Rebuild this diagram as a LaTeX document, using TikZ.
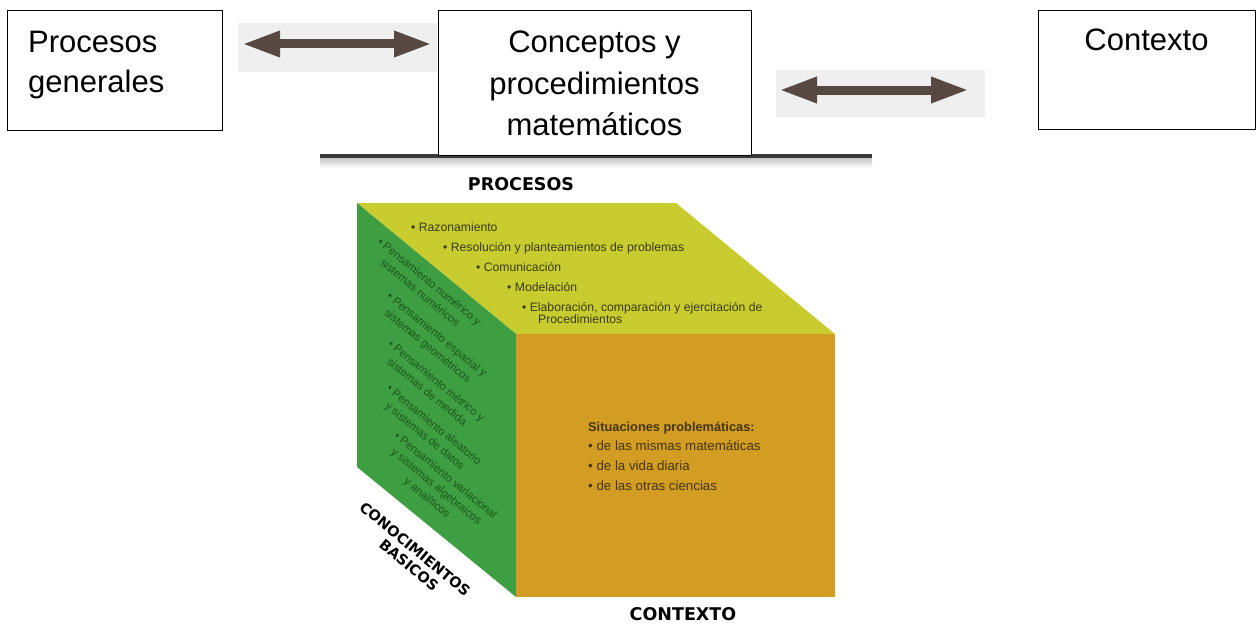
\documentclass[tikz,border=0pt]{standalone}
\usepackage{fontspec}
\setmainfont{Liberation Sans}
\newfontfamily\heavyfont{DejaVu Sans}
\usetikzlibrary{arrows.meta}
\definecolor{arrowc}{HTML}{574842}
\definecolor{arrowbg}{HTML}{EFEFEF}
\definecolor{topface}{HTML}{C9CC2E}
\definecolor{leftface}{HTML}{3E9E42}
\definecolor{frontface}{HTML}{D29D22}
\definecolor{toptext}{HTML}{3A3A14}
\definecolor{lefttext}{HTML}{1C561C}
\definecolor{fronttext}{HTML}{45360E}
\definecolor{rulec}{HTML}{3A3A3A}
\begin{document}
\begin{tikzpicture}[x=1pt,y=-1pt,
  box/.style={draw=black, line width=1.3pt, fill=white, inner sep=0pt, anchor=north west},
  bigtxt/.style={inner sep=0pt, font=\fontsize{31}{40}\selectfont},
  arrbg/.style={fill=arrowbg, draw=none, inner sep=0pt, anchor=north west},
  dblarrow/.style={draw=arrowc, line width=9pt, {Triangle[length=38pt,width=24pt]}-{Triangle[length=38pt,width=24pt]}},
  toptxt/.style={anchor=base west, inner sep=0pt, text=toptext, font=\fontsize{12.2}{13}\selectfont},
  fronttxt/.style={anchor=base west, inner sep=0pt, text=fronttext, font=\fontsize{13.3}{15}\selectfont},
  lefttxt/.style={inner sep=0pt, rotate=-39.5, align=center, text=lefttext, font=\fontsize{11.2}{14.5}\selectfont},
  label/.style={inner sep=0pt, text=black, font=\heavyfont\bfseries\fontsize{17.5}{20}\selectfont},
  dlabel/.style={inner sep=0pt, rotate=-39.5, text=black, font=\heavyfont\bfseries\fontsize{14.5}{17}\selectfont}
]
\useasboundingbox (0,0) rectangle (1257,626);

% separator line under the header
\shade[top color=black!25, bottom color=white] (320,157) rectangle (872,168);
\draw[rulec, line width=4pt] (320,156) -- (872,156);

% header boxes
\node[box, minimum width=215pt, minimum height=120pt] (pg) at (7,10) {};
\node[bigtxt, anchor=north west, align=left] (pgt) at (28,31) {Procesos\\generales};

\node[box, minimum width=313pt, minimum height=145pt] (cp) at (438,10) {};
\node[bigtxt, anchor=north, align=center, font=\fontsize{31}{41.5}\selectfont] (cpt) at (594.5,31) {Conceptos y\\procedimientos\\matemáticos};

\node[box, minimum width=217pt, minimum height=119pt] (ct) at (1038,10) {};
\node[bigtxt, anchor=north] (ctt) at (1146.5,29) {Contexto};

% arrows
\node[arrbg, minimum width=199pt, minimum height=49pt] (bg1) at (238,23) {};
\coordinate (a1l) at (242,44);
\coordinate (a1r) at (432,44);
\draw[dblarrow] (a1l) -- (a1r);

\node[arrbg, minimum width=209pt, minimum height=47pt] (bg2) at (776,70) {};
\coordinate (a2l) at (779,90);
\coordinate (a2r) at (969,90);
\draw[dblarrow] (a2l) -- (a2r);

% cube faces
\fill[topface] (357,203) -- (676,203) -- (835,334) -- (516,334) -- cycle;
\fill[leftface] (357,203) -- (516,334) -- (516,597) -- (357,467) -- cycle;
\fill[frontface] (516,334) rectangle (835,597);

% labels
\node[label] (lproc) at (521,184) {PROCESOS};
\node[label] (lcont) at (683,614.5) {CONTEXTO};
\node[dlabel] (lcon) at (415,549) {CONOCIMIENTOS};
\node[dlabel] (lbas) at (409,565) {BASICOS};

% top face
\node[toptxt] (t1) at (411,231) {• Razonamiento};
\node[toptxt] (t2) at (443,251) {• Resolución y planteamientos de problemas};
\node[toptxt] (t3) at (476,271) {• Comunicación};
\node[toptxt] (t4) at (507,291) {• Modelación};
\node[toptxt] (t5) at (522,311) {• Elaboración, comparación y ejercitación de};
\node[toptxt] (t6) at (538,323) {Procedimientos};

% front face
\node[fronttxt, font=\bfseries\fontsize{12.8}{15}\selectfont] (f0) at (588,431) {Situaciones problemáticas:};
\node[fronttxt] (f1) at (588,450) {• de las mismas matemáticas};
\node[fronttxt] (f2) at (588,470) {• de la vida diaria};
\node[fronttxt] (f3) at (588,490) {• de las otras ciencias};

% left face
\node[lefttxt] (g1) at (425,287) {• Pensamiento numérico y\\sistemas numéricos};
\node[lefttxt] (g2) at (432,341) {• Pensamiento espacial y\\sistemas geométricos};
\node[lefttxt] (g3) at (432,386) {• Pensamiento métrico y\\sistemas de medida};
\node[lefttxt] (g4) at (429,431) {• Pensamiento aleatorio\\y sistemas de datos};
\node[lefttxt] (g5) at (436,487) {• Pensamiento variacional\\y sistemas algebraicos\\y analíticos};
\end{tikzpicture}
\end{document}
